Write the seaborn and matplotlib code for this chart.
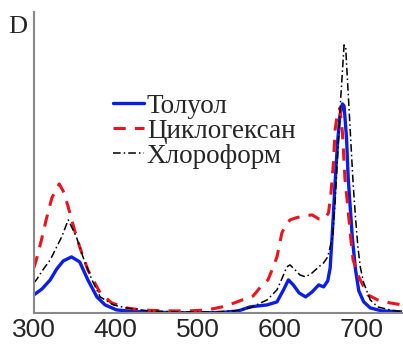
import matplotlib
matplotlib.use("Agg")
import matplotlib.pyplot as plt
import seaborn as sns
import pandas as pd
from matplotlib.ticker import MultipleLocator

# Толуол (blue, solid)
tol_x = [300, 310, 320, 328, 336, 346, 356, 366, 377, 387, 401, 420, 450, 500, 530, 550, 564,
         585, 597, 605, 611, 617, 624, 632, 640, 648, 654, 659, 662, 665, 668, 671, 674, 677,
         679, 682, 684, 687, 689, 693, 697, 703, 711, 725, 750]
tol_y = [18, 24, 33, 44, 52, 56, 51, 33, 16, 8, 3, 1.5, 0.5, 0, 0.5, 2, 6,
         8, 11, 23, 33, 28, 20, 16, 21, 28, 26, 32, 45, 85, 130, 170, 198, 209,
         207, 175, 135, 100, 76, 43, 22, 11, 5, 2, 1]

# Циклогексан (red, dashed)
cyc_x = [300, 303, 309, 315, 322, 331, 337, 344, 350, 356, 366, 381, 395, 413, 430, 460, 490,
         512, 530, 545, 558, 568, 577, 586, 592, 597, 603, 608, 613, 620, 630, 640, 648, 655,
         660, 663, 666, 668, 671, 674, 677, 680, 683, 687, 690, 697, 708, 720, 735, 750]
cyc_y = [45, 53, 72, 93, 115, 129, 120, 100, 82, 66, 43, 20, 10, 5, 3, 2, 2,
         3, 6, 10, 14, 17, 26, 33, 45, 56, 80, 88, 93, 95, 97, 98, 94, 94,
         100, 120, 150, 183, 200, 205, 180, 135, 110, 76, 53, 36, 18, 13, 10, 8]

# Хлороформ (black, dash-dot)
chl_x = [300, 303, 311, 320, 334, 342, 352, 360, 371, 381, 397, 413, 440, 480, 520, 545, 564,
         585, 597, 604, 609, 613, 618, 625, 632, 640, 648, 654, 659, 665, 668, 671, 675, 679,
         681, 684, 687, 690, 693, 696, 699, 703, 711, 720, 735, 750]
chl_y = [30, 33, 43, 53, 76, 93, 76, 56, 33, 16, 8, 5, 2, 1, 1, 2, 5,
         13, 23, 36, 46, 48, 44, 38, 36, 40, 46, 50, 56, 76, 110, 156, 216, 268,
         265, 220, 175, 130, 95, 65, 45, 30, 13, 6, 3, 1]

labels = ["Толуол", "Циклогексан", "Хлороформ"]
xticks = [300, 400, 500, 600, 700]

sns.set_style("white")
plt.rcParams["font.family"] = ["Liberation Sans", "DejaVu Sans"]

fig = plt.figure(figsize=(4.03, 3.5), dpi=100)
ax = fig.add_axes([0.084, 0.106, 0.914, 0.86])

d1 = pd.DataFrame({"x": tol_x, "y": tol_y})
d2 = pd.DataFrame({"x": cyc_x, "y": cyc_y})
d3 = pd.DataFrame({"x": chl_x, "y": chl_y})

sns.lineplot(data=d1, x="x", y="y", ax=ax, color="#0a1ee6", linewidth=2.4,
             linestyle="-", sort=False, label=labels[0])
sns.lineplot(data=d2, x="x", y="y", ax=ax, color="#e8141e", linewidth=2.2,
             sort=False, label=labels[1], dashes=False)
ax.lines[-1].set_dashes([4, 3])
sns.lineplot(data=d3, x="x", y="y", ax=ax, color="black", linewidth=1.1,
             sort=False, label=labels[2])
ax.lines[-1].set_dashes([5, 2, 1, 2])

ax.set_xlim(300, 750)
ax.set_ylim(0, 301)
ax.set_xticks(xticks)
ax.xaxis.set_minor_locator(MultipleLocator(50))
ax.set_yticks([])
ax.set_xlabel("")
ax.set_ylabel("")
for s in ["top", "right"]:
    ax.spines[s].set_visible(False)
for s in ["left", "bottom"]:
    ax.spines[s].set_color("#888888")
    ax.spines[s].set_linewidth(1.5)
ax.tick_params(axis="x", which="both", direction="in", length=5, width=1.2,
               color="#888888", labelsize=19, pad=4)
ax.tick_params(axis="x", which="minor", length=4)

fig.text(0.02, 0.955, "D", family=["Liberation Serif", "DejaVu Serif"], fontsize=19,
         va="top", ha="left")

leg = ax.legend(loc="upper left", bbox_to_anchor=(0.215, 0.728), frameon=False,
                prop={"family": ["Liberation Serif", "DejaVu Serif"], "size": 19.5},
                handlelength=1.15, handletextpad=0.1, labelspacing=0.0,
                borderaxespad=0, borderpad=0)

fig.savefig("out.png", dpi=100)
